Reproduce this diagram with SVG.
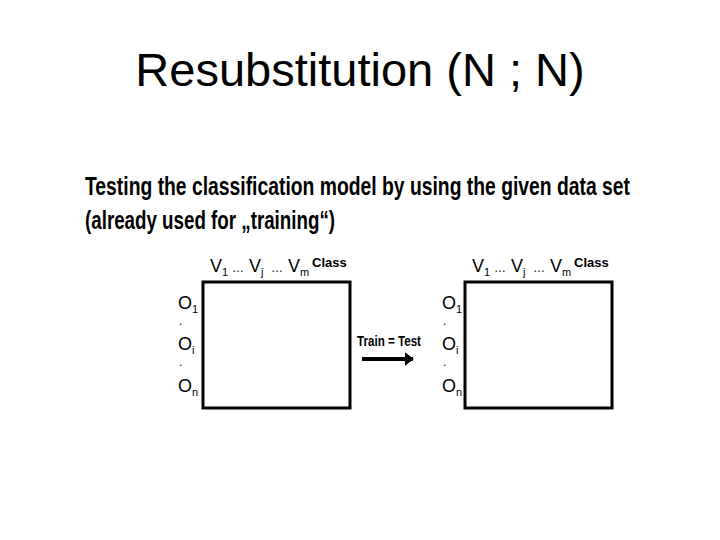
<svg xmlns="http://www.w3.org/2000/svg" width="720" height="540" viewBox="0 0 720 540">
<style>
text{font-family:"Liberation Sans",Arial,sans-serif;fill:#000}
.h{font-size:18px}
.s{font-size:11px}
.b{fill:none;stroke:#000;stroke-width:3}
.d{font-size:12px}
.e{font-size:12px}
.c{font-size:13px;font-weight:bold}
.t{font-size:25px;font-weight:bold}
</style>
<defs><marker id="ah" markerWidth="4" markerHeight="4" refX="2" refY="2" orient="auto" markerUnits="strokeWidth"><path d="M0,0.3L2.2,2L0,3.7z" fill="#000"/></marker></defs>
<rect width="720" height="540" fill="#fff"/>
<text x="360" y="86" font-size="47" text-anchor="middle">Resubstitution (N ; N)</text>
<text class="t" x="85" y="195" textLength="545" lengthAdjust="spacingAndGlyphs">Testing the classification model by using the given data set</text>
<text class="t" x="85" y="229" textLength="250" lengthAdjust="spacingAndGlyphs">(already used for „training“)</text>
<g id="left">
<rect class="b" x="203" y="282" width="147" height="126"/>
<text class="h" x="210" y="272">V<tspan class="s" dy="4">1</tspan></text>
<text class="e" x="232" y="272">…</text>
<text class="h" x="249" y="272">V<tspan class="s" dy="4">j</tspan></text>
<text class="e" x="271" y="272">…</text>
<text class="h" x="288" y="272">V<tspan class="s" dy="4">m</tspan></text>
<text class="c" x="312" y="267">Class</text>
<text class="h" x="178" y="309">O<tspan class="s" dy="4">1</tspan></text>
<text class="d" x="179" y="325">.</text>
<text class="h" x="178" y="350">O<tspan class="s" dy="4">i</tspan></text>
<text class="d" x="179" y="366">.</text>
<text class="h" x="178" y="392">O<tspan class="s" dy="4">n</tspan></text>
</g>
<g id="right">
<rect class="b" x="465" y="282" width="147" height="126"/>
<text class="h" x="472" y="272">V<tspan class="s" dy="4">1</tspan></text>
<text class="e" x="494" y="272">…</text>
<text class="h" x="511" y="272">V<tspan class="s" dy="4">j</tspan></text>
<text class="e" x="533" y="272">…</text>
<text class="h" x="550" y="272">V<tspan class="s" dy="4">m</tspan></text>
<text class="c" x="574" y="267">Class</text>
<text class="h" x="442" y="309">O<tspan class="s" dy="4">1</tspan></text>
<text class="d" x="443" y="325">.</text>
<text class="h" x="442" y="350">O<tspan class="s" dy="4">i</tspan></text>
<text class="d" x="443" y="366">.</text>
<text class="h" x="442" y="392">O<tspan class="s" dy="4">n</tspan></text>
</g>
<g id="connectors">
<line x1="362" y1="359" x2="413" y2="359" stroke="#000" stroke-width="4" marker-end="url(#ah)"/>
<text x="389" y="346" font-size="14" font-weight="bold" text-anchor="middle" textLength="64" lengthAdjust="spacingAndGlyphs">Train = Test</text>
</g>
</svg>
